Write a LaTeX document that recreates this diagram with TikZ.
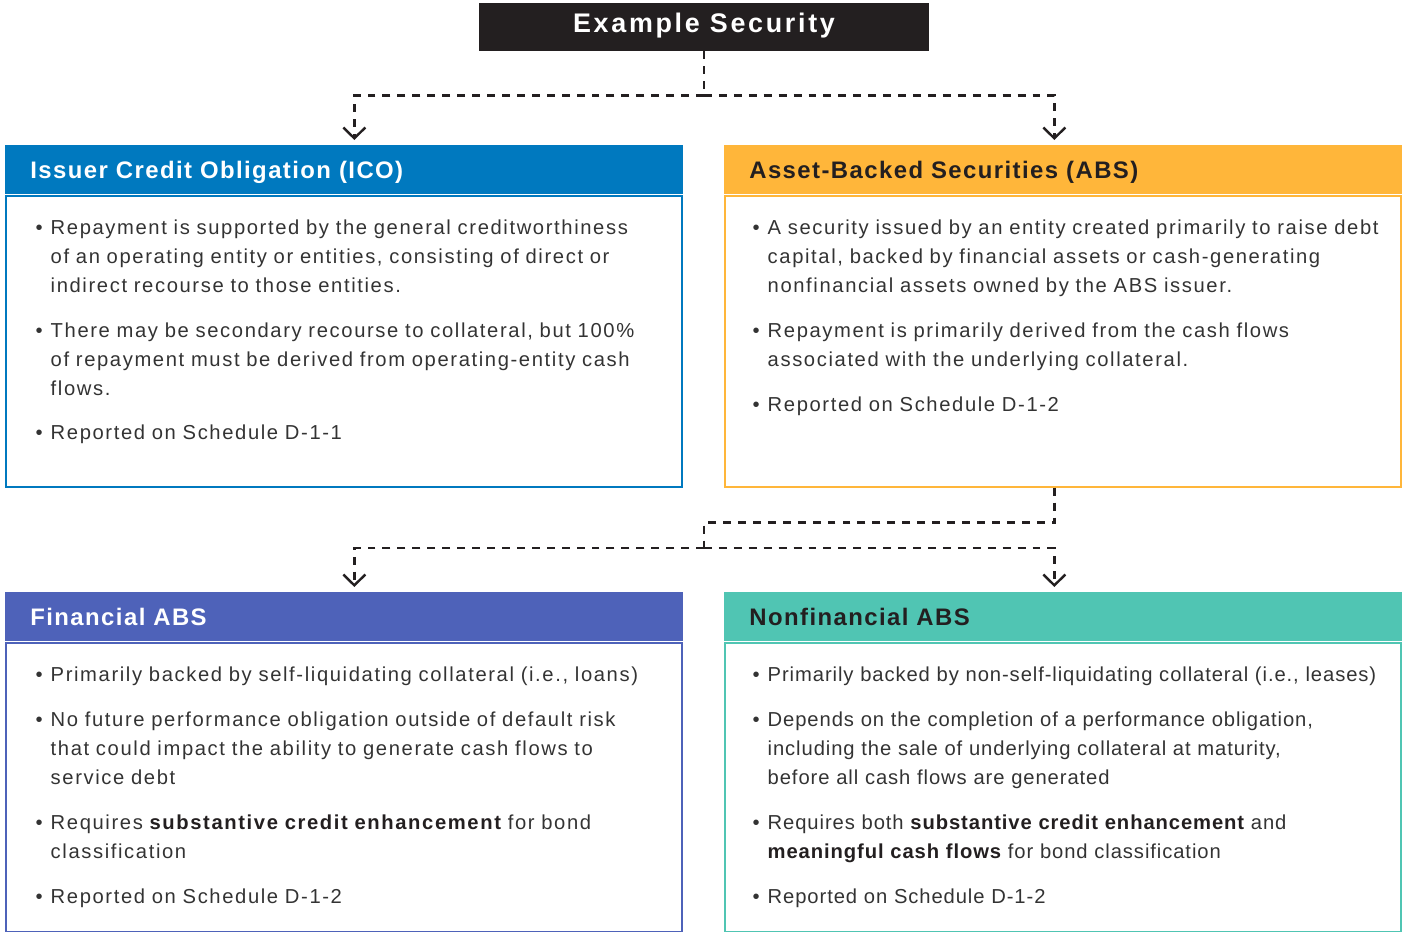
\documentclass[tikz,border=0pt]{standalone}
\usepackage{fontspec}
\setmainfont{Liberation Sans}
\newfontfamily\bodyfamily[LetterSpace=8]{Liberation Sans}
\newfontfamily\headfamily[LetterSpace=6]{Liberation Sans}
\newfontfamily\titlefamily[LetterSpace=10]{Liberation Sans}
\usetikzlibrary{arrows.meta}
\usetikzlibrary{calc,positioning}

\newlength{\pxu}
\setlength{\pxu}{0.02cm}

\definecolor{titleblack}{RGB}{35,31,32}
\definecolor{icoblue}{RGB}{0,121,191}
\definecolor{absorange}{RGB}{255,182,58}
\definecolor{finpurple}{RGB}{78,98,185}
\definecolor{nonfinteal}{RGB}{80,197,179}
\definecolor{bodygray}{RGB}{51,51,51}

% one bullet point with hanging indent
\newcommand{\bitem}[1]{\hangindent=15\pxu\hangafter=1\noindent\makebox[15\pxu][l]{\textbullet}#1\par}
\newcommand{\bterm}[1]{{\bfseries\color{titleblack}#1}}

\begin{document}
\begin{tikzpicture}[x=\pxu,y=-\pxu,>={Straight Barb[length=6.2pt,width=12.5pt]},
  titlebox/.style={fill=titleblack, text=white, minimum width=450\pxu, minimum height=48\pxu,
    text height=10.2pt, text depth=4.2pt, font=\titlefamily\bfseries\fontsize{15.3pt}{18pt}\selectfont},
  headbox/.style={anchor=north west, minimum width=678\pxu, minimum height=49\pxu, inner xsep=25\pxu,
    inner ysep=0pt, text width=628\pxu, align=left, text height=9.9pt, text depth=0pt,
    font=\headfamily\bfseries\fontsize{13.6pt}{16pt}\selectfont},
  framebox/.style={draw, line width=1.13pt, minimum width=676\pxu, inner sep=0pt},
  bodytext/.style={anchor=north west, inner sep=0pt, text width=680\pxu, text=bodygray,
    font=\bodyfamily\fontsize{11.5pt}{16.44pt}\selectfont\raggedright\setlength{\parskip}{16\pxu}},
  dashline/.style={line width=1.4pt, dash pattern=on 4.5pt off 4pt, titleblack}]
\useasboundingbox (0,0) rectangle (1403,932);

\node[titlebox] (title) at (704,27) {Example Security};

% first level
\node[headbox, fill=icoblue, text=white] (ico) at (5,145) {Issuer Credit Obligation (ICO)};
\node[framebox, draw=icoblue, minimum height=291\pxu, below=0pt of ico] (icoframe) {};
\node[headbox, fill=absorange, text=titleblack] (abs) at (724,145) {Asset-Backed Securities (ABS)};
\node[framebox, draw=absorange, minimum height=291\pxu, below=0pt of abs] (absframe) {};

\node[bodytext] (icotext) at ($(icoframe.north west)+(30,25)$) {%
  \bitem{Repayment is supported by the general creditworthiness\newline of an operating entity or entities, consisting of direct or\newline indirect recourse to those entities.}
  \bitem{There may be secondary recourse to collateral, but 100\%\newline of repayment must be derived from operating-entity cash\newline flows.}
  \bitem{Reported on Schedule D-1-1}};
\node[bodytext] (abstext) at ($(absframe.north west)+(28,25)$) {%
  \bitem{A security issued by an entity created primarily to raise debt\newline capital, backed by financial assets or cash-generating\newline nonfinancial assets owned by the ABS issuer.}
  \bitem{Repayment is primarily derived from the cash flows\newline associated with the underlying collateral.}
  \bitem{Reported on Schedule D-1-2}};

% second level
\node[headbox, fill=finpurple, text=white] (fin) at (5,592) {Financial ABS};
\node[framebox, draw=finpurple, minimum height=289\pxu, below=0pt of fin] (finframe) {};
\node[headbox, fill=nonfinteal, text=titleblack] (nonfin) at (724,592) {Nonfinancial ABS};
\node[framebox, draw=nonfinteal, minimum height=289\pxu, below=0pt of nonfin] (nonfinframe) {};

\node[bodytext] (fintext) at ($(finframe.north west)+(30,25)$) {%
  \bitem{Primarily backed by self-liquidating collateral (i.e., loans)}
  \bitem{No future performance obligation outside of default risk\newline that could impact the ability to generate cash flows to\newline service debt}
  \bitem{Requires \bterm{substantive credit enhancement} for bond\newline classification}
  \bitem{Reported on Schedule D-1-2}};
\node[bodytext] (nonfintext) at ($(nonfinframe.north west)+(28,25)$) {%
  \bitem{\addfontfeature{LetterSpace=4.5}Primarily backed by non-self-liquidating collateral (i.e., leases)}
  \bitem{Depends on the completion of a performance obligation,\newline including the sale of underlying collateral at maturity,\newline before all cash flows are generated}
  \bitem{Requires both \bterm{substantive credit enhancement} and\newline \bterm{meaningful cash flows} for bond classification}
  \bitem{Reported on Schedule D-1-2}};

% connectors
\coordinate (topsplit) at ($(title.south)+(0,44)$);
\coordinate (midsplit) at (704,548);
\draw[dashline] (title.south) -- (topsplit);
\draw[dashline,->,shorten >=2.8pt] (topsplit) -| ([xshift=10\pxu]ico.north);
\draw[dashline,->,shorten >=2.8pt] (topsplit) -| ([xshift=-9\pxu]abs.north);
\draw[dashline] ([xshift=-9\pxu]absframe.south) -- ++(0,35) -| (midsplit);
\draw[dashline,->,shorten >=2.8pt] (midsplit) -| ([xshift=10\pxu]fin.north);
\draw[dashline,->,shorten >=2.8pt] (midsplit) -| ([xshift=-9\pxu]nonfin.north);
\end{tikzpicture}
\end{document}
